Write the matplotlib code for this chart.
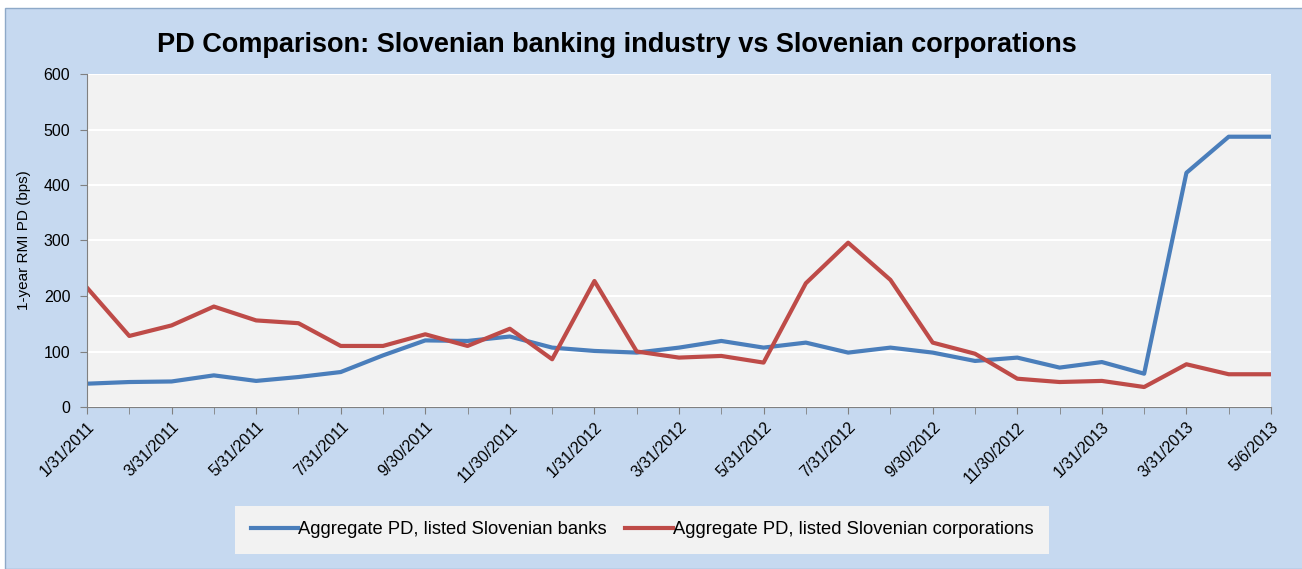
import matplotlib
matplotlib.use("Agg")
import matplotlib.pyplot as plt
from matplotlib.patches import Rectangle

plt.rcParams['font.family'] = ['Liberation Sans', 'DejaVu Sans']

dates = ["1/31/2011", "2/28/2011", "3/31/2011", "4/30/2011", "5/31/2011", "6/30/2011",
         "7/31/2011", "8/31/2011", "9/30/2011", "10/31/2011", "11/30/2011", "12/31/2011",
         "1/31/2012", "2/29/2012", "3/31/2012", "4/30/2012", "5/31/2012", "6/30/2012",
         "7/31/2012", "8/31/2012", "9/30/2012", "10/31/2012", "11/30/2012", "12/31/2012",
         "1/31/2013", "2/28/2013", "3/31/2013", "4/30/2013", "5/6/2013"]

banks = [42, 45, 46, 57, 47, 54, 63, 93, 120, 119, 127, 107,
         101, 98, 107, 119, 107, 116, 98, 107, 98, 83,
         89, 71, 81, 60, 422, 487, 487]

corps = [215, 128, 147, 181, 156, 151, 110, 110, 131, 110, 141, 86,
         227, 100, 89, 92, 80, 223, 296, 229, 116, 96,
         51, 45, 47, 36, 77, 59, 59]

yticks = [0, 100, 200, 300, 400, 500, 600]

blue = "#4A7EBB"
red = "#BE4B48"

fig = plt.figure(figsize=(13.02, 5.69), dpi=100, facecolor="white")
fig.patches.append(Rectangle((5 / 1302, 0), 1, 1 - 8 / 569, transform=fig.transFigure,
                             facecolor="#C6D9F0", edgecolor="#8EA9C8", linewidth=1, zorder=-10))

ax = fig.add_axes([87 / 1302, 1 - 407 / 569, (1271 - 87) / 1302, (407 - 74) / 569])
ax.set_facecolor("#F2F2F2")

x = list(range(len(dates)))
ax.plot(x, banks, color=blue, lw=3, label="Aggregate PD, listed Slovenian banks", solid_joinstyle="round")
ax.plot(x, corps, color=red, lw=3, label="Aggregate PD, listed Slovenian corporations", solid_joinstyle="round")

ax.set_xlim(0, len(dates) - 1)
ax.set_ylim(0, 600)
ax.set_yticks(yticks)
ax.grid(axis="y", color="white", lw=1.5)
ax.set_axisbelow(True)

ax.set_xticks(x, minor=True)
ax.set_xticks(x[::2])
ax.set_xticklabels(dates[::2], rotation=45, ha="right", rotation_mode="anchor", fontsize=11.5)
ax.tick_params(axis="x", which="both", direction="out", length=5, color="#808080", pad=4)
ax.tick_params(axis="y", direction="out", length=5, color="#808080", labelsize=11.5, pad=7)

for side in ["top", "right"]:
    ax.spines[side].set_visible(False)
for side in ["left", "bottom"]:
    ax.spines[side].set_color("#808080")

ax.set_ylabel("1-year RMI PD (bps)", fontsize=11, labelpad=9)

fig.text(617 / 1302, 1 - 45 / 569, "PD Comparison: Slovenian banking industry vs Slovenian corporations",
         ha="center", va="center", fontsize=19.5, fontweight="bold")

leg = fig.legend(loc="center", bbox_to_anchor=(642 / 1302, 1 - 530 / 569), ncol=2,
                 fontsize=13.2, frameon=True, fancybox=False, handlelength=2.6,
                 handletextpad=0.0, columnspacing=1.0, borderpad=0.85)
leg.get_frame().set_facecolor("#F2F2F2")
leg.get_frame().set_edgecolor("none")
leg.get_frame().set_alpha(1)

fig.savefig("out.png", dpi=100, facecolor=fig.get_facecolor())
